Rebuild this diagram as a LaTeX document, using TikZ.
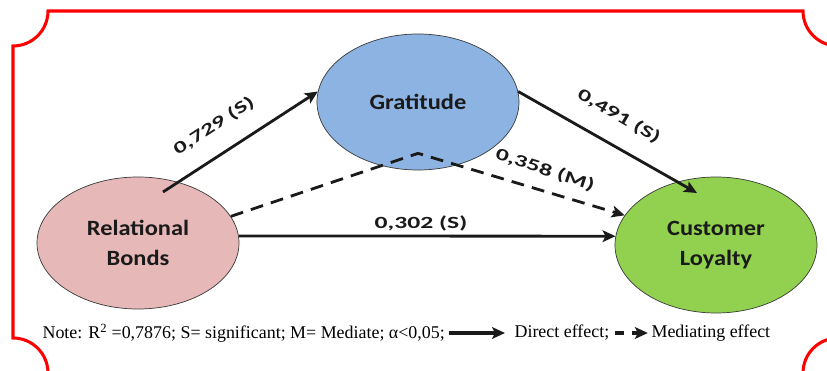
\documentclass[tikz,border=0pt]{standalone}
\usepackage{fontspec}
\setsansfont{Carlito}
\newfontfamily\ovalfont[FakeStretch=1.12]{Carlito}
\newfontfamily\weightfont[FakeStretch=1.5]{Carlito}
\newfontfamily\notefont{Liberation Serif}
\usepackage{tikz}
\usetikzlibrary{positioning,shapes.geometric,arrows.meta,calc}
\definecolor{ink}       {HTML}{1A1A1A}
\definecolor{framered}  {HTML}{FF0000}
\definecolor{bondpink}  {HTML}{E6B9B8}
\definecolor{gratblue}  {HTML}{8DB3E2}
\definecolor{loyalgreen}{HTML}{92D050}
\definecolor{rim}       {HTML}{3A3A3A}
\tikzset{
  >=Stealth,
  % --- nodes
  oval/.style  = {ellipse, draw=rim, line width=0.6pt, align=center, inner sep=0pt,
                  minimum width=6.06cm, minimum height=4.08cm, text=ink,
                  font=\ovalfont\bfseries\fontsize{18.6}{25.6}\selectfont},
  wt/.style    = {inner sep=1pt, text=ink,
                  font=\weightfont\bfseries\fontsize{14.6}{17}\selectfont},
  note/.style  = {inner sep=2pt, text=black, anchor=west,
                  font=\notefont\fontsize{15.3}{18}\selectfont},
  % --- edges
  e/.style     = {-{Stealth[length=11pt,width=10pt,inset=2.5pt]}, line width=2.4pt, draw=ink},
  ed/.style    = {e, dash pattern=on 11pt off 7pt},
  leg/.style   = {e, line width=3pt, shorten <=1pt, shorten >=6pt},
  legd/.style  = {leg, dash pattern=on 7pt off 7pt, shorten <=3pt, shorten >=1pt},
  border/.style= {draw=framered, line width=2.6pt},
}
\begin{document}
\begin{tikzpicture}[x=0.03cm, y=-0.03cm]
  \useasboundingbox (0,0) rectangle (827,371);
  % frame with scooped corners
  \draw[border] (48,11) -- (803,11) arc (180:90:35) -- (838,338) arc (270:180:35)
    -- (48,373) arc (0:-90:35) -- (13,46) arc (90:0:35) -- cycle;

  \node[oval, fill=gratblue] (gr) at (418,102) {Gratitude};
  \node[oval, fill=bondpink, minimum height=3.96cm] (rb) at (138,243) {Relational\\Bonds};
  \node[oval, fill=loyalgreen] (cl) at (716,245) {Customer\\Loyalty};

  \draw[e] ([shift={(25,-51)}]rb.center) -- (gr.174);
  \draw[e] (gr.6) -- ([shift={(-19,-52)}]cl.center);
  \draw[ed] (rb.16) -- ([shift={(0,-17)}]gr.south) -- (cl.162);
  \draw[e] (rb.4) -- (cl.175);

  \node[wt, rotate=33]  (w729) at (214,126) {0,729 (S)};
  \node[wt, rotate=-30] (w491) at (619,116) {0,491 (S)};
  \node[wt, rotate=-18] (w358) at (545,170) {0,358 (M)};
  \node[wt]             (w302) at (421,223) {0,302 (S)};

  \node[note] (nt) at (40,333) {Note: R\textsuperscript{2} =0,7876; S= significant; M= Mediate; α<0,05;};
  \node[note] (de) at (512,333) {Direct effect;};
  \node[note] (me) at (649,333) {Mediating effect};
  \draw[leg] (nt.east) -- (de.west);
  \draw[legd] (de.east) -- (me.west);
\end{tikzpicture}
\end{document}
